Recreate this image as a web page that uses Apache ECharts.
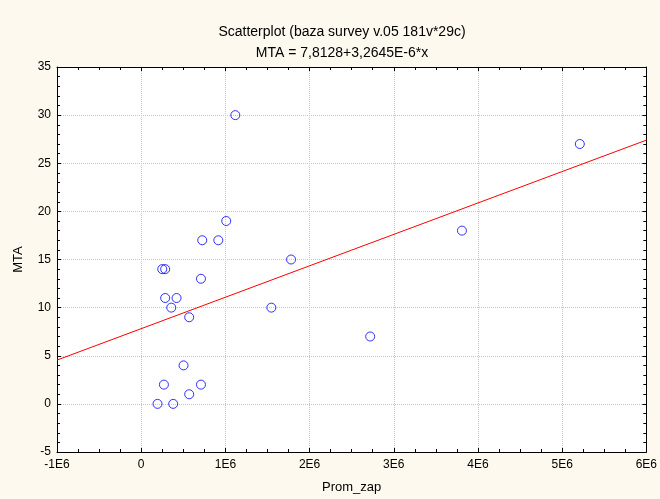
<!DOCTYPE html>
<html>
<head>
<meta charset="utf-8">
<script src="https://cdn.jsdelivr.net/npm/echarts@6/dist/echarts.min.js"></script>
<style>
  html, body { margin: 0; padding: 0; background: #fdf9ee; }
  #chart { width: 660px; height: 499px; }
</style>
</head>
<body>
<div id="chart"></div>
<script>
// data
var promZap = [250000, 285000, 710000, 285000, 420000, 357000, 570000, 1546000, 1780000,
  503000, 270000, 710000, 570000, 194000, 380000, 1118000, 1010000, 725000, 916000,
  5210000, 3810000, 2720000];
var mta = [14, 14, 13, 11, 11, 10, 9, 10, 15,
  4, 2, 2, 1, 0, 0, 30, 19, 17, 17,
  27, 18, 7];
// regression line end points (MTA = 7,8128+3,2645E-6*x)
var fitX = [-1000000, 6000000];
var fitY = [4.55, 27.40];

var points = promZap.map(function (x, i) { return [x, mta[i]]; });
var fitLine = fitX.map(function (x, i) { return [x, fitY[i]]; });

var font = 'Liberation Sans, Arial, sans-serif';

function xLabel(v) {
  if (v === 0) return '0';
  return (v / 1e6) + 'E6';
}

// top and right axes: just the frame with inward ticks
function frameAxis(extra, minorSplit) {
  return Object.assign({
    type: 'value',
    axisLine: { show: true, onZero: false, lineStyle: { color: '#000', width: 1 } },
    axisTick: { show: true, inside: true, length: 4, lineStyle: { color: '#000' } },
    minorTick: { show: true, splitNumber: minorSplit, length: 3, lineStyle: { color: '#000' } },
    axisLabel: { show: false },
    splitLine: { show: false }
  }, extra);
}

var gridLine = { show: true, lineStyle: { color: '#c8c8c8', type: [1, 1], width: 1 } };

var chart = echarts.init(document.getElementById('chart'));
chart.setOption({
  backgroundColor: '#fdf9ee',
  animation: false,
  title: {
    text: 'Scatterplot (baza survey v.05 181v*29c)\nMTA = 7,8128+3,2645E-6*x',
    left: 337,
    textAlign: 'center',
    top: 17,
    textStyle: { fontFamily: font, fontSize: 14, fontWeight: 'normal', color: '#000', lineHeight: 21 }
  },
  grid: { left: 57, right: 12, top: 67, bottom: 44, backgroundColor: '#fff', show: true, borderWidth: 0 },
  xAxis: [{
    type: 'value', min: -1000000, max: 6000000, interval: 1000000,
    name: 'Prom_zap', nameLocation: 'middle', nameGap: 29,
    nameTextStyle: { fontFamily: font, fontSize: 13, color: '#000' },
    axisLine: { show: true, onZero: false, lineStyle: { color: '#000', width: 1 } },
    axisTick: { show: true, inside: true, length: 4, lineStyle: { color: '#000' } },
    minorTick: { show: true, splitNumber: 4, length: 3, lineStyle: { color: '#000' } },
    axisLabel: { formatter: xLabel, fontFamily: font, fontSize: 12, color: '#000', margin: 7 },
    splitLine: gridLine
  }, frameAxis({ position: 'top', min: -1000000, max: 6000000, interval: 1000000 }, 4)],
  yAxis: [{
    type: 'value', min: -5, max: 35, interval: 5,
    name: 'MTA', nameLocation: 'middle', nameGap: 32, nameRotate: 90,
    nameTextStyle: { fontFamily: font, fontSize: 13, color: '#000' },
    axisLine: { show: true, onZero: false, lineStyle: { color: '#000', width: 1 } },
    axisTick: { show: true, inside: true, length: 4, lineStyle: { color: '#000' } },
    minorTick: { show: true, splitNumber: 5, length: 3, lineStyle: { color: '#000' } },
    axisLabel: { fontFamily: font, fontSize: 12, color: '#000', margin: 6 },
    splitLine: gridLine
  }, frameAxis({ position: 'right', min: -5, max: 35, interval: 5 }, 5)],
  series: [{
    type: 'line',
    data: fitLine,
    symbol: 'none',
    lineStyle: { color: '#ff0000', width: 1 },
    z: 3
  }, {
    type: 'scatter',
    data: points,
    symbol: 'circle',
    symbolSize: 9,
    itemStyle: { color: 'rgba(0,0,0,0)', borderColor: '#0000ff', borderWidth: 1 },
    z: 4
  }]
});
</script>
</body>
</html>
